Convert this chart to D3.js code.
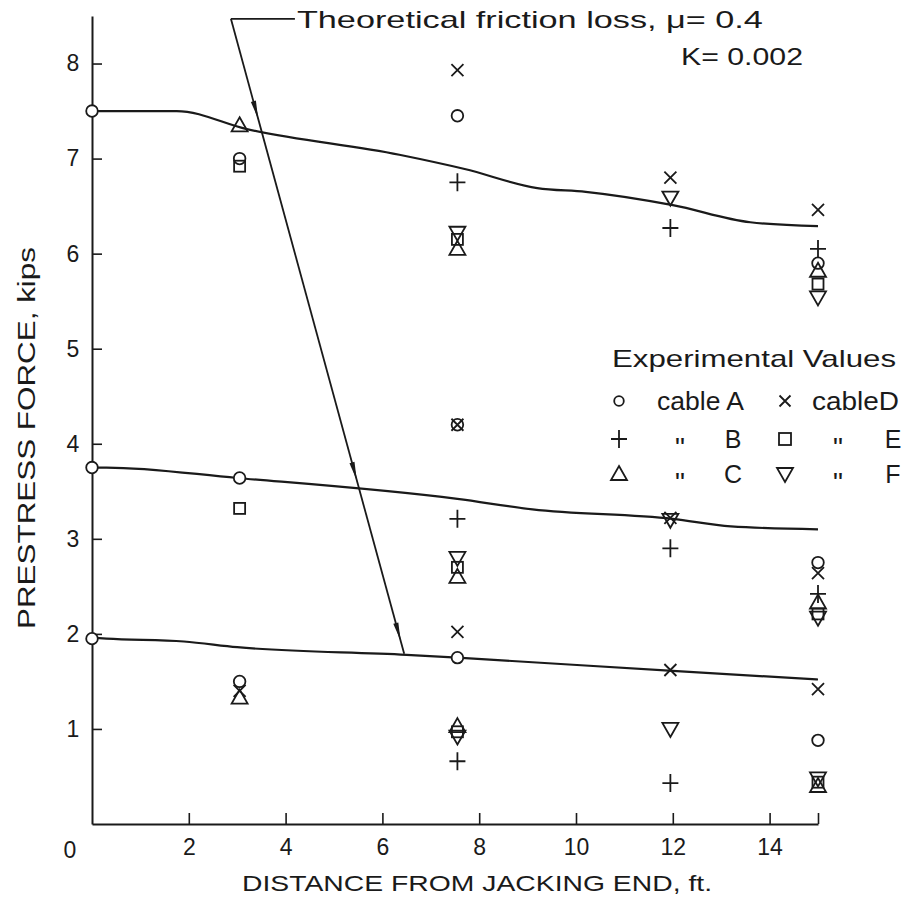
<!DOCTYPE html>
<html>
<head>
<meta charset="utf-8">
<script src="https://cdn.jsdelivr.net/npm/d3@7"></script>
<style>
  html, body { margin: 0; padding: 0; background: #fff; }
  svg { display: block; }
  text { font-family: "Liberation Sans", Arial, sans-serif; fill: #1a1a1a; }
</style>
</head>
<body>
<script>
// Tick values
const xTicks = [2, 4, 6, 8, 10, 12, 14, 15];
const yTicks = [1, 2, 3, 4, 5, 6, 7, 8];

// Theoretical friction-loss curves for the three jacking forces
const theoryHigh = [[0, 7.5], [1.75, 7.5], [3.2, 7.31], [6.35, 7.04], [7.7, 6.89], [9.2, 6.69], [10.2, 6.65], [12.0, 6.51], [13.6, 6.33], [15, 6.29]];
const theoryMid  = [[0, 3.75], [0.3, 3.75], [3.0, 3.64], [7.55, 3.42], [9.1, 3.31], [12.0, 3.21], [13.2, 3.13], [15, 3.10]];
const theoryLow  = [[0, 1.96], [0.3, 1.95], [1.9, 1.92], [3.0, 1.86], [6.5, 1.78], [7.55, 1.75], [12.0, 1.61], [15, 1.52]];

// Measured prestress force per cable: [distance ft, force kips]
const cableA = [[0, 7.5], [0, 3.75], [0, 1.95], [3.05, 7.0], [3.05, 3.64], [3.05, 1.5], [7.55, 7.45], [7.55, 4.2], [7.55, 1.75], [15, 5.9], [15, 2.75], [15, 0.88]];
const cableB = [[7.55, 6.75], [7.55, 3.21], [7.55, 0.66], [11.95, 6.27], [11.95, 2.9], [11.95, 0.43], [15, 6.05], [15, 2.42]];
const cableC = [[3.05, 7.35], [3.05, 1.33], [7.55, 6.05], [7.55, 2.6], [7.55, 1.03], [15, 5.82], [15, 2.33], [15, 0.4]];
const cableD = [[3.05, 1.4], [7.55, 7.93], [7.55, 4.2], [7.55, 2.02], [11.95, 6.8], [11.95, 3.22], [11.95, 1.62], [15, 6.46], [15, 2.64], [15, 1.42]];
const cableE = [[3.05, 6.92], [3.05, 3.32], [7.55, 6.15], [7.55, 2.7], [7.55, 0.97], [15, 5.68], [15, 2.21], [15, 0.44]];
const cableF = [[7.55, 6.22], [7.55, 2.8], [7.55, 0.92], [11.95, 6.59], [11.95, 3.2], [11.95, 1.0], [15, 5.54], [15, 2.17], [15, 0.48]];

// Leader of the annotation: start (top) and end (on the lowest curve), in data units
const leader = [[2.87, 8.47], [6.45, 1.79]];
// Force levels at which arrowheads sit on the leader
const arrowLevels = [7.42, 3.62, 1.93];

const ink = "#1a1a1a";
const numFont = "'Liberation Sans Narrow', 'Liberation Sans', Arial, sans-serif";
const W = 910, H = 907;

const svg = d3.select("body").append("svg").attr("width", W).attr("height", H);

const x = d3.scaleLinear().domain([0, 15]).range([92, 818]);
const y = d3.scaleLinear().domain([0, 8.5]).range([824, 16]);

// Axes
const xAxis = svg.append("g").attr("transform", `translate(0,${y(0)})`)
  .call(d3.axisBottom(x).tickValues(xTicks).tickSize(-11).tickSizeOuter(0)
    .tickPadding(15).tickFormat(d => d === 15 ? "" : d));
const yAxis = svg.append("g").attr("transform", `translate(${x(0)},0)`)
  .call(d3.axisLeft(y).tickValues(yTicks).tickSize(-10).tickSizeOuter(0).tickPadding(13));

[xAxis, yAxis].forEach(g => {
  g.select(".domain").attr("stroke", ink).attr("stroke-width", 2);
  g.selectAll(".tick line").attr("stroke", ink).attr("stroke-width", 1.6);
  g.selectAll(".tick text").attr("fill", ink).style("font-size", "23px")
    .style("font-family", numFont);
});
yAxis.selectAll(".tick text").attr("text-anchor", "middle").attr("x", -19);

svg.append("text").attr("x", 70).attr("y", y(0) + 34).attr("text-anchor", "middle")
  .style("font-size", "23px").style("font-family", numFont).text("0");

// Axis titles
svg.append("text")
  .attr("x", 477).attr("y", 891).attr("text-anchor", "middle")
  .attr("textLength", 470).attr("lengthAdjust", "spacingAndGlyphs")
  .style("font-size", "22px").text("DISTANCE FROM JACKING END, ft.");

svg.append("text")
  .attr("transform", "translate(35,438) rotate(-90)")
  .attr("text-anchor", "middle")
  .attr("textLength", 382).attr("lengthAdjust", "spacingAndGlyphs")
  .style("font-size", "23px").text("PRESTRESS FORCE, kips");

// Theory curves
const line = d3.line().x(d => x(d[0])).y(d => y(d[1])).curve(d3.curveMonotoneX);
[theoryHigh, theoryMid, theoryLow].forEach(c => {
  svg.append("path").datum(c).attr("d", line)
    .attr("fill", "none").attr("stroke", ink).attr("stroke-width", 2.2);
});

// Marker shapes
const shapes = {
  circle: g => g.append("circle").attr("r", 5.8),
  plus: g => g.append("path").attr("d", "M-8,0H8M0,-9V9"),
  times: g => g.append("path").attr("d", "M-6,-6L6,6M-6,6L6,-6"),
  up: g => g.append("path").attr("d", "M0,-8L8,6H-8Z"),
  down: g => g.append("path").attr("d", "M0,8L8,-6H-8Z"),
  square: g => g.append("rect").attr("x", -5.5).attr("y", -5.5).attr("width", 11).attr("height", 11)
};

const series = [
  { data: cableA, shape: "circle" },
  { data: cableB, shape: "plus" },
  { data: cableC, shape: "up" },
  { data: cableD, shape: "times" },
  { data: cableE, shape: "square" },
  { data: cableF, shape: "down" }
];

function drawMarker(parent, shape, px, py) {
  const g = parent.append("g").attr("transform", `translate(${px},${py})`)
    .attr("fill", "none").attr("stroke", ink).attr("stroke-width", 1.8);
  shapes[shape](g);
  if (shape === "circle") g.select("circle").attr("fill", "#fff");
  return g;
}

const marks = svg.append("g");
series.forEach(s => {
  s.data.forEach(d => drawMarker(marks, s.shape, x(d[0]), y(d[1])));
});

// Annotation leader with arrowheads
const p0 = [x(leader[0][0]), y(leader[0][1])];
const p1 = [x(leader[1][0]), y(leader[1][1])];
svg.append("line").attr("x1", p0[0]).attr("y1", p0[1]).attr("x2", p1[0]).attr("y2", p1[1])
  .attr("stroke", ink).attr("stroke-width", 1.8);
svg.append("line").attr("x1", p0[0]).attr("y1", p0[1]).attr("x2", p0[0] + 64).attr("y2", p0[1])
  .attr("stroke", ink).attr("stroke-width", 1.6);

const ang = Math.atan2(p1[1] - p0[1], p1[0] - p0[0]) * 180 / Math.PI;
arrowLevels.forEach(v => {
  const t = (leader[0][1] - v) / (leader[0][1] - leader[1][1]);
  const ax = x(leader[0][0] + t * (leader[1][0] - leader[0][0]));
  const ay = y(v);
  svg.append("path").attr("d", "M0,0L-18,-2.6L-18,2.6Z")
    .attr("transform", `translate(${ax},${ay}) rotate(${ang})`)
    .attr("fill", ink);
});

svg.append("text").attr("x", p0[0] + 66).attr("y", p0[1] + 9)
  .attr("textLength", 466).attr("lengthAdjust", "spacingAndGlyphs")
  .style("font-size", "24px").text("Theoretical  friction  loss,  \u03bc= 0.4");
svg.append("text").attr("x", 681).attr("y", 65)
  .attr("textLength", 122).attr("lengthAdjust", "spacingAndGlyphs")
  .style("font-size", "24px").text("K= 0.002");

// Legend
const lg = svg.append("g");
lg.append("text").attr("x", 612).attr("y", 367)
  .attr("textLength", 284).attr("lengthAdjust", "spacingAndGlyphs")
  .style("font-size", "24px").text("Experimental   Values");

const legendRows = [
  [{ shape: "circle", label: "cable A" }, { shape: "times", label: "cableD" }],
  [{ shape: "plus", letter: "B" }, { shape: "square", letter: "E" }],
  [{ shape: "up", letter: "C" }, { shape: "down", letter: "F" }]
];
const rowY = [401, 439, 474];
const colX = [619, 785];
legendRows.forEach((row, i) => {
  row.forEach((item, j) => {
    const mx = colX[j], my = rowY[i];
    const g = drawMarker(lg, item.shape, mx, my);
    if (item.shape === "circle") g.select("circle").attr("r", 4.8);
    if (item.shape === "times") g.select("path").attr("d", "M-5.5,-5.5L5.5,5.5M-5.5,5.5L5.5,-5.5");
    if (item.shape === "square") g.select("rect").attr("x", -6).attr("y", -6).attr("width", 12).attr("height", 12);
    if (item.label) {
      lg.append("text").attr("x", j === 0 ? 657 : 812).attr("y", my + 9)
        .attr("textLength", 87).attr("lengthAdjust", "spacingAndGlyphs")
        .style("font-size", "25px").text(item.label);
    } else {
      // ditto mark
      lg.append("text").attr("x", j === 0 ? 680 : 838).attr("y", my + 18).attr("text-anchor", "middle")
        .style("font-size", "28px").style("font-family", numFont).text("\"");
      lg.append("text").attr("x", j === 0 ? 733 : 893).attr("y", my + 9).attr("text-anchor", "middle")
        .style("font-size", "25px").text(item.letter);
    }
  });
});
</script>
</body>
</html>
